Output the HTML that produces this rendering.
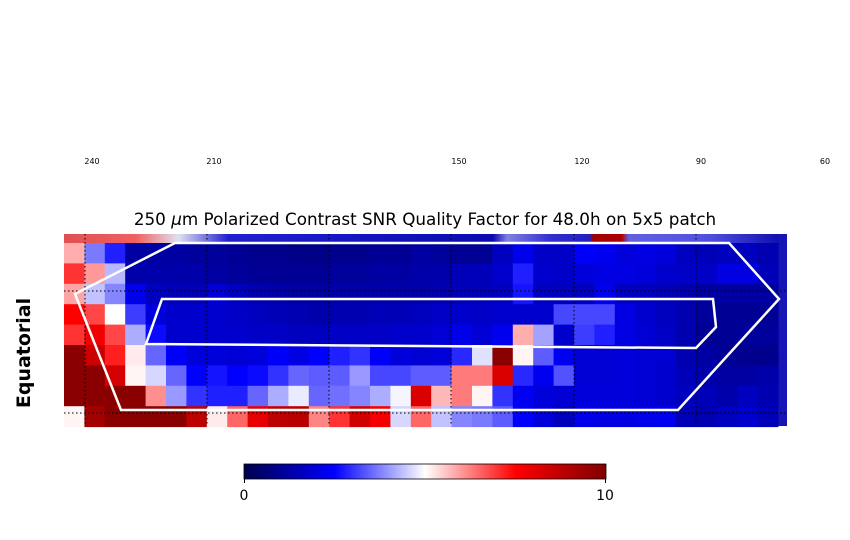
<!DOCTYPE html>
<html><head><meta charset="utf-8"><style>
body{margin:0;background:#fff;width:850px;height:540px;overflow:hidden}
svg{display:block;font-family:"DejaVu Sans","Liberation Sans",sans-serif}
</style></head><body>
<svg id="chart" width="850" height="540" viewBox="0 0 850 540">
<defs>
<linearGradient id="cbar" x1="0" x2="1" y1="0" y2="0">
<stop offset="0" stop-color="#00004d"/><stop offset="0.25" stop-color="#0000ff"/><stop offset="0.5" stop-color="#ffffff"/><stop offset="0.75" stop-color="#ff0000"/><stop offset="1" stop-color="#800000"/>
</linearGradient>
<linearGradient id="topnoise" x1="0" x2="1" y1="0" y2="0">
<stop offset="0" stop-color="#e05050"/><stop offset="0.1" stop-color="#f06060"/><stop offset="0.16" stop-color="#e0e0f0"/><stop offset="0.23" stop-color="#2020d0"/><stop offset="0.6" stop-color="#0a0ab0"/><stop offset="0.62" stop-color="#8080e0"/><stop offset="0.68" stop-color="#3030d0"/><stop offset="0.735" stop-color="#2020c0"/><stop offset="0.74" stop-color="#a00000"/><stop offset="0.78" stop-color="#b00000"/><stop offset="0.79" stop-color="#6060e0"/><stop offset="0.9" stop-color="#5050e0"/><stop offset="1" stop-color="#1010b0"/>
</linearGradient>
</defs>
<g font-size="8" fill="#000">
<text x="92" y="164" text-anchor="middle">240</text>
<text x="214" y="164" text-anchor="middle">210</text>
<text x="459" y="164" text-anchor="middle">150</text>
<text x="582" y="164" text-anchor="middle">120</text>
<text x="701" y="164" text-anchor="middle">90</text>
<text x="825" y="164" text-anchor="middle">60</text>
</g>
<text x="425" y="225" text-anchor="middle" font-size="16.8">250 <tspan font-style="italic">μ</tspan>m Polarized Contrast SNR Quality Factor for 48.0h on 5x5 patch</text>
<text transform="translate(30,353) rotate(-90)" text-anchor="middle" font-size="19" font-weight="bold">Equatorial</text>
<rect x="64" y="234" width="715" height="9" fill="url(#topnoise)"/>
<rect x="778" y="234" width="9" height="192" fill="#1515b5"/>
<g id="cells"></g>
<g stroke="#000" stroke-width="1" stroke-dasharray="1.5,2.5">
<line x1="85" y1="234" x2="85" y2="426"/><line x1="207" y1="234" x2="207" y2="426"/><line x1="329" y1="234" x2="329" y2="426"/><line x1="451" y1="234" x2="451" y2="426"/><line x1="574" y1="234" x2="574" y2="426"/><line x1="696" y1="234" x2="696" y2="426"/>
<line x1="64" y1="291" x2="787" y2="291"/><line x1="64" y1="413" x2="787" y2="413"/>
</g>
<polygon points="175,243 729,243 779,299 678,410 121,410 75,294" fill="none" stroke="#fff" stroke-width="2.5"/>
<polygon points="162,299 713,299 716,327 696,348 146,344" fill="none" stroke="#fff" stroke-width="2.5"/>
<rect x="244" y="464" width="362" height="15" fill="url(#cbar)" stroke="#000" stroke-width="0.8"/>
<line x1="244.5" y1="479" x2="244.5" y2="483" stroke="#000"/>
<line x1="605.5" y1="479" x2="605.5" y2="483" stroke="#000"/>
<text x="244" y="500" text-anchor="middle" font-size="14">0</text>
<text x="605" y="500" text-anchor="middle" font-size="14">10</text>
</svg>
<script>
const rowValues0=[5.8,3.7,2.8,1.2,1.2,1.2,1.1,1.1,1.0,0.9,0.9,0.8,0.8,0.9,0.9,1.0,1.0,1.2,1.1,1.0,1.0,1.6,2.2,1.7,1.7,2.4,2.3,2.0,2.1,2.0,1.6,1.5,1.6,1.6,1.4];
const rowValues1=[7.0,6.0,4.3,1.3,1.3,1.3,1.3,1.2,1.1,1.0,1.0,1.0,1.0,1.1,1.1,1.2,1.2,1.3,1.3,1.5,1.5,1.8,2.8,1.8,1.7,2.0,2.1,2.1,2.0,1.8,1.7,1.7,2.1,2.1,1.5];
const rowValues2=[5.9,4.4,3.8,2.2,1.6,1.5,1.5,1.9,1.6,1.4,1.3,1.2,1.2,1.3,1.3,1.3,1.3,1.3,1.4,1.5,1.5,1.6,2.7,1.6,1.6,1.6,2.2,1.6,1.6,1.5,1.4,1.2,1.2,1.2,1.2];
const rowValues3=[7.5,6.8,5.0,3.1,2.0,1.8,1.8,1.8,1.7,1.6,1.5,1.4,1.3,1.4,1.4,1.5,1.5,1.6,1.7,1.8,1.7,1.8,1.8,1.8,3.2,3.2,3.2,2.1,1.8,1.6,1.4,1.1,1.0,1.0,1.0];
const rowValues4=[7.0,7.8,6.8,4.2,2.6,1.8,1.8,1.8,1.8,1.7,1.7,1.6,1.6,1.7,1.7,1.7,1.8,1.8,1.9,2.2,1.9,2.3,5.8,4.1,1.8,3.1,2.8,2.1,1.9,1.7,1.4,1.0,1.0,1.1,1.1];
const rowValues5=[9.8,8.5,7.2,5.2,3.5,2.4,2.0,2.0,1.9,2.0,2.4,2.1,2.5,2.8,3.0,2.4,2.0,1.9,2.0,2.9,4.7,9.8,5.1,3.4,2.3,1.9,1.9,2.0,1.9,1.9,1.4,1.2,1.0,0.9,0.9];
const rowValues6=[9.8,9.8,8.3,5.1,4.6,3.5,2.5,2.7,2.5,2.6,3.0,3.5,3.4,3.4,4.0,3.2,3.2,3.4,3.4,6.3,6.3,8.2,2.9,2.3,3.3,1.9,1.9,2.0,1.9,1.8,1.5,1.3,1.2,1.2,1.3];
const rowValues7=[9.8,9.8,9.8,9.8,6.1,4.0,3.0,2.8,2.8,3.5,4.2,4.8,3.5,3.6,3.8,4.2,4.9,8.2,5.7,6.3,5.1,3.0,2.3,2.0,1.9,2.0,2.0,2.0,1.9,1.8,1.6,1.5,1.3,1.6,1.4];
const rowValues8=[5.1,9.3,9.8,9.8,9.8,9.8,8.8,5.2,6.5,8.0,8.8,8.9,6.2,7.0,8.4,7.7,4.6,6.5,4.4,3.8,3.7,3.4,2.5,2.0,1.6,2.2,2.1,2.1,2.2,2.3,1.5,1.4,1.6,1.8,1.5];
const rows=[rowValues0,rowValues1,rowValues2,rowValues3,rowValues4,rowValues5,rowValues6,rowValues7,rowValues8];
const vmin=0,vmax=10;
const x0=64,y0=243,cw=20.4,ch=20.4;
function xScale(i){return x0+i*cw;}
function yScale(j){return y0+j*ch;}
function seismic(v){
  let t=Math.max(0,Math.min(1,(v-vmin)/(vmax-vmin)));
  const s=[[0,0,0,77],[0.25,0,0,255],[0.5,255,255,255],[0.75,255,0,0],[1,128,0,0]];
  for(let k=0;k<4;k++){if(t<=s[k+1][0]){const f=(t-s[k][0])/(s[k+1][0]-s[k][0]);
    const c=[1,2,3].map(m=>Math.round(s[k][m]+f*(s[k+1][m]-s[k][m])));return `rgb(${c[0]},${c[1]},${c[2]})`;}}
  return 'rgb(128,0,0)';
}
const g=document.getElementById('cells');
rows.forEach((row,j)=>{row.forEach((v,i)=>{
  const r=document.createElementNS('http://www.w3.org/2000/svg','rect');
  r.setAttribute('x',xScale(i));r.setAttribute('y',yScale(j));
  r.setAttribute('width',cw+0.5);r.setAttribute('height',ch+0.5);
  r.setAttribute('fill',seismic(v));
  
  
  g.appendChild(r);
});});
</script>
</body></html>
